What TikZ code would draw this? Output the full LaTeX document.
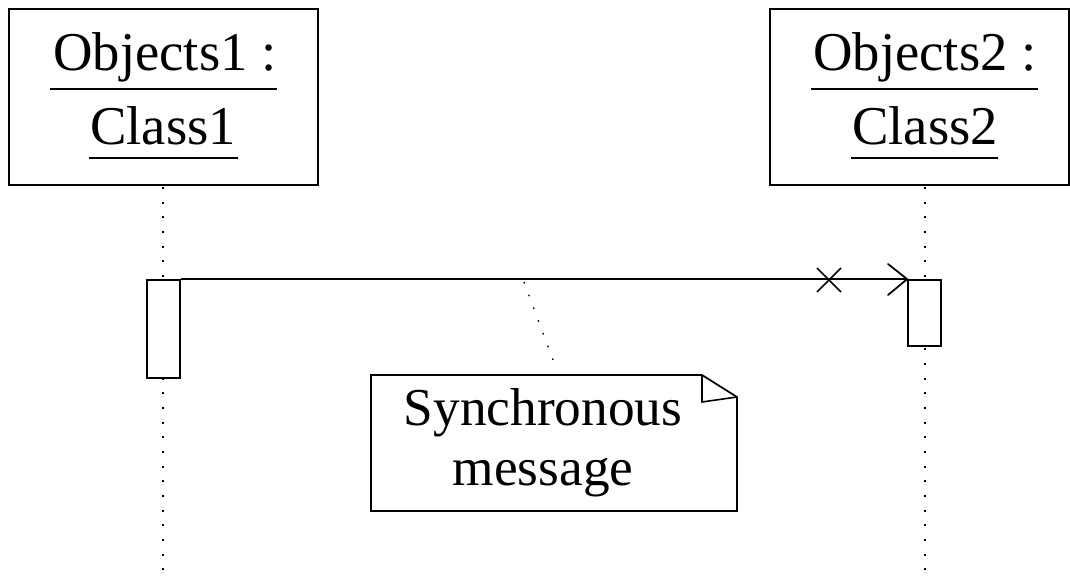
\documentclass[tikz,border=0pt]{standalone}
\usepackage{fontspec}
\setmainfont{Liberation Serif}
\usetikzlibrary{calc}
\tikzset{
  objbox/.style={draw, line width=1.3pt, inner sep=0pt},
  actbox/.style={draw, line width=1.3pt, fill=white, inner sep=0pt, minimum width=33*0.75pt},
  lifeline/.style={line width=1.2pt, dash pattern=on 1.5pt off 9.5pt},
  msg/.style={line width=1.3pt},
  hdr/.style={font=\fontsize{41}{49}\selectfont, anchor=base, inner sep=0pt},
  notetxt/.style={font=\fontsize{40}{48}\selectfont, anchor=base, inner sep=0pt},
  uline/.style={line width=1.3pt}
}
\begin{document}
\begin{tikzpicture}[x=0.75pt,y=-0.75pt]
\useasboundingbox (0,0) rectangle (1070,575);
% object boxes
\node[objbox, minimum width=309*0.75pt, minimum height=176*0.75pt] (o1) at (163.5,97) {};
\node[objbox, minimum width=299*0.75pt, minimum height=176*0.75pt] (o2) at (919.5,97) {};
\node[hdr] (o1a) at (165,70) {Objects1 :};
\node[hdr] (o1b) at (163,144) {Class1};
\node[hdr] (o2a) at (925,70) {Objects2 :};
\node[hdr] (o2b) at (925,144) {Class2};
\draw[uline] (50,89) -- (277,89);
\draw[uline] (89,158) -- (238,158);
\draw[uline] (811,89) -- (1038,89);
\draw[uline] (851,158) -- (998,158);
% lifelines
\coordinate (l1end) at (163,575);
\coordinate (l2end) at (925,575);
\draw[lifeline] (163,187) -- (l1end);
\draw[lifeline] (925,187) -- (l2end);
% activations
\node[actbox, minimum height=98*0.75pt] (a1) at (163.5,329) {};
\node[actbox, minimum height=66*0.75pt] (a2) at (924.5,313) {};
% message
\draw[msg] (a1.north east) -- (a2.north west);
\draw[msg, line cap=round] (888,264) -- (a2.north west) -- (888,295);
\coordinate (xm) at (829,280);
\draw[msg] ($(xm)+(-12,-12)$) -- ($(xm)+(12,12)$);
\draw[msg] ($(xm)+(-12,12)$) -- ($(xm)+(12,-12)$);
% note
\draw[line width=1.3pt, fill=white] (371,375) -- (702,375) -- (737,397) -- (737,511) -- (371,511) -- cycle;
\draw[line width=1.2pt] (702,375) -- (702,402) -- (737,397);
\node[notetxt] (n1) at (543,425) {Synchronous};
\node[notetxt] (n2) at (543,485) {message};
\coordinate (nattach) at (524,282);
\coordinate (ntop) at (556,368);
\draw[line width=1pt, dash pattern=on 1.2pt off 9pt] (nattach) -- (ntop);
\end{tikzpicture}
\end{document}
